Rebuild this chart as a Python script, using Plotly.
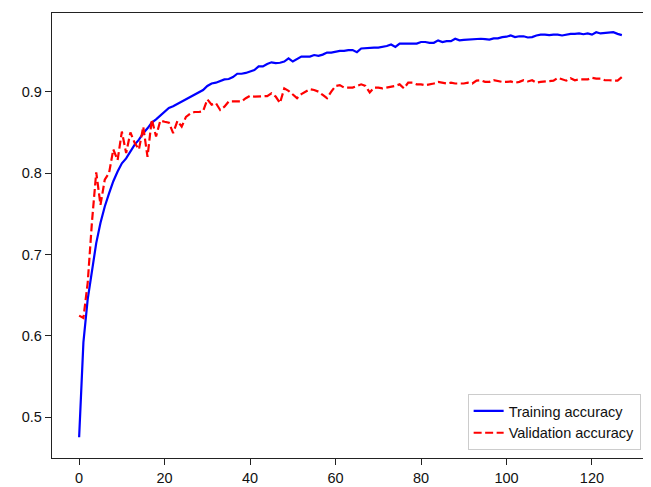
import plotly.graph_objects as go

epochs = list(range(128))

train_acc = [
    0.4755, 0.592, 0.645, 0.682, 0.714, 0.739, 0.759, 0.775, 0.790, 0.802,
    0.812, 0.818, 0.827, 0.835, 0.841, 0.849, 0.855, 0.862, 0.866, 0.871,
    0.876, 0.880, 0.882, 0.885, 0.888, 0.891, 0.893, 0.896, 0.899, 0.902,
    0.907, 0.910, 0.911, 0.913, 0.915, 0.9155, 0.918, 0.922, 0.922, 0.923,
    0.925, 0.9265, 0.931, 0.931, 0.934, 0.936, 0.935, 0.9355, 0.937, 0.941,
    0.937, 0.9395, 0.943, 0.943, 0.943, 0.945, 0.944, 0.9455, 0.948, 0.948,
    0.949, 0.950, 0.950, 0.951, 0.951, 0.9485, 0.953, 0.9535, 0.954, 0.954,
    0.954, 0.955, 0.956, 0.958, 0.955, 0.959, 0.9588, 0.959, 0.959, 0.959,
    0.961, 0.961, 0.960, 0.960, 0.963, 0.961, 0.962, 0.962, 0.965, 0.963,
    0.9635, 0.964, 0.964, 0.9645, 0.965, 0.9645, 0.964, 0.9655, 0.9655, 0.967,
    0.9675, 0.969, 0.967, 0.968, 0.968, 0.9665, 0.967, 0.969, 0.970, 0.970,
    0.9695, 0.970, 0.970, 0.969, 0.970, 0.971, 0.971, 0.9715, 0.9705, 0.9715,
    0.970, 0.973, 0.9715, 0.972, 0.973, 0.973, 0.971, 0.9695,
]

val_acc = [
    0.625, 0.622, 0.665, 0.740, 0.801, 0.761, 0.792, 0.800, 0.829, 0.816,
    0.851, 0.8245, 0.850, 0.837, 0.829, 0.857, 0.820, 0.866, 0.845, 0.8645,
    0.863, 0.862, 0.849, 0.864, 0.857, 0.869, 0.873, 0.875, 0.875, 0.876,
    0.8905, 0.884, 0.886, 0.8775, 0.8815, 0.888, 0.888, 0.888, 0.888, 0.892,
    0.895, 0.894, 0.894, 0.894, 0.8945, 0.898, 0.894, 0.886, 0.904, 0.901,
    0.896, 0.892, 0.897, 0.900, 0.903, 0.902, 0.900, 0.896, 0.892, 0.900,
    0.907, 0.908, 0.905, 0.905, 0.905, 0.907, 0.909, 0.907, 0.899, 0.905,
    0.905, 0.904, 0.905, 0.906, 0.907, 0.909, 0.904, 0.911, 0.911, 0.909,
    0.909, 0.908, 0.909, 0.910, 0.912, 0.911, 0.910, 0.911, 0.910, 0.910,
    0.910, 0.911, 0.910, 0.9135, 0.914, 0.912, 0.912, 0.914, 0.913, 0.912,
    0.912, 0.9125, 0.911, 0.912, 0.914, 0.9125, 0.914, 0.911, 0.912, 0.9125,
    0.9135, 0.9135, 0.917, 0.915, 0.9135, 0.9165, 0.914, 0.915, 0.915, 0.915,
    0.917, 0.916, 0.916, 0.914, 0.914, 0.914, 0.9135, 0.918,
]

x_ticks = [0, 20, 40, 60, 80, 100, 120]
y_ticks = [0.5, 0.6, 0.7, 0.8, 0.9]
y_tick_labels = ["0.5", "0.6", "0.7", "0.8", "0.9"]

font_family = "Liberation Sans, Arial, Helvetica, sans-serif"

fig = go.Figure()
fig.add_trace(go.Scatter(
    x=epochs, y=train_acc, mode="lines", name="Training accuracy",
    line=dict(color="#0000ff", width=2.2),
))
fig.add_trace(go.Scatter(
    x=epochs, y=val_acc, mode="lines", name="Validation accuracy",
    line=dict(color="#ff0000", width=2.2, dash="8px,3.5px"),
))

axis_common = dict(
    showline=True, linecolor="#222222", linewidth=1.3, mirror=True,
    showgrid=False, zeroline=False,
    ticks="outside", ticklen=6, tickwidth=1.2, tickcolor="#222222",
    tickfont=dict(family=font_family, size=14.5, color="#111111"),
)

# page body has an 8px default margin, so the figure is 8px smaller than the window
fig.update_layout(
    width=643, height=479,
    margin=dict(l=44, r=2, t=5, b=29),
    paper_bgcolor="white", plot_bgcolor="white",
    font=dict(family=font_family, size=14.5, color="#111111"),
    xaxis=dict(range=[-6.35, 133.35], tickvals=x_ticks, **axis_common),
    yaxis=dict(range=[0.4501, 0.9966], tickvals=y_ticks, ticktext=y_tick_labels, **axis_common),
    legend=dict(
        x=0.986, y=0.018, xanchor="right", yanchor="bottom",
        bgcolor="rgba(255,255,255,0.8)", bordercolor="#cccccc", borderwidth=1,
        font=dict(family=font_family, size=14.5, color="#111111"),
        itemwidth=30, tracegroupgap=0,
    ),
    showlegend=True,
)

fig.write_html("out.html")
